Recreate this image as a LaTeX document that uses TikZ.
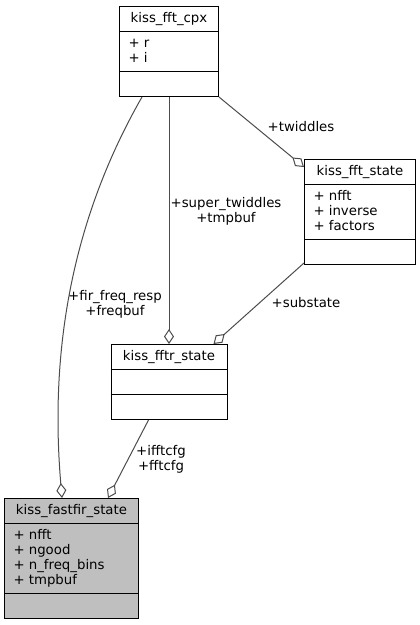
\documentclass[tikz,border=0pt]{standalone}
\usepackage{fontspec}
\setmainfont{DejaVu Sans}
\usetikzlibrary{arrows.meta}

\tikzset{
  classbox/.style={draw=black, anchor=north west, inner sep=0pt},
  classname/.style={anchor=north, minimum height=25, inner sep=0pt},
  members/.style={anchor=north west, align=left, inner sep=0pt},
  assoc/.style={draw=black!70, -{Diamond[open, length=15pt, width=10pt]}},
  rolename/.style={align=center, inner sep=0pt}
}

\begin{document}
\begin{tikzpicture}[x=1pt, y=-1pt, line width=1pt, font=\fontsize{13.3}{15}\selectfont]
\useasboundingbox (0,0) rectangle (420,625);
% classes
\node[classbox, minimum width=99, minimum height=90] (cpx) at (119,6) {};
\node[classname] (cpx_name) at (cpx.north) {kiss\_fft\_cpx};
\draw ([yshift=-25]cpx.north west) -- ([yshift=-25]cpx.north east);
\draw ([yshift=-65]cpx.north west) -- ([yshift=-65]cpx.north east);
\node[members] (cpx_attr) at ([xshift=9,yshift=-30]cpx.north west) {\strut+ r\\+ i};

\node[classbox, minimum width=111, minimum height=105] (fft_state) at (304,159) {};
\node[classname] (fft_state_name) at (fft_state.north) {kiss\_fft\_state};
\draw ([yshift=-25]fft_state.north west) -- ([yshift=-25]fft_state.north east);
\draw ([yshift=-80]fft_state.north west) -- ([yshift=-80]fft_state.north east);
\node[members] (fft_state_attr) at ([xshift=9,yshift=-30]fft_state.north west) {\strut+ nfft\\+ inverse\\+ factors};

\node[classbox, minimum width=116, minimum height=75] (fftr) at (110.5,344) {};
\node[classname] (fftr_name) at (fftr.north) {kiss\_fftr\_state};
\draw ([yshift=-25]fftr.north west) -- ([yshift=-25]fftr.north east);
\draw ([yshift=-50]fftr.north west) -- ([yshift=-50]fftr.north east);

\node[classbox, fill=black!25, minimum width=134, minimum height=120] (fastfir) at (4,498) {};
\node[classname] (fastfir_name) at (fastfir.north) {kiss\_fastfir\_state};
\draw ([yshift=-25]fastfir.north west) -- ([yshift=-25]fastfir.north east);
\draw ([yshift=-95]fastfir.north west) -- ([yshift=-95]fastfir.north east);
\node[members] (fastfir_attr) at ([xshift=9,yshift=-30]fastfir.north west) {\strut+ nfft\\+ ngood\\+ n\_freq\_bins\\+ tmpbuf};

% associations
\draw[assoc] ([xshift=23]cpx.south west) .. controls (60,240) and (52,380) .. ([xshift=58]fastfir.north west);
\draw[assoc] (cpx.south) -- (fftr.north);
\draw[assoc] (cpx.south east) -- ([yshift=-8]fft_state.north west);
\draw[assoc] ([yshift=2]fft_state.south west) -- ([xshift=103]fftr.north west);
\draw[assoc] ([xshift=38]fftr.south west) -- ([xshift=104]fastfir.north west);

% role names
\node[rolename] (lbl_freqbuf) at (115,304) {+fir\_freq\_resp\\+freqbuf};
\node[rolename] (lbl_tmpbuf) at (226,211) {+super\_twiddles\\+tmpbuf};
\node[rolename] (lbl_twiddles) at (301,127) {+twiddles};
\node[rolename] (lbl_substate) at (306,303) {+substate};
\node[rolename] (lbl_cfg) at (161,459) {+ifftcfg\\+fftcfg};
\end{tikzpicture}
\end{document}
